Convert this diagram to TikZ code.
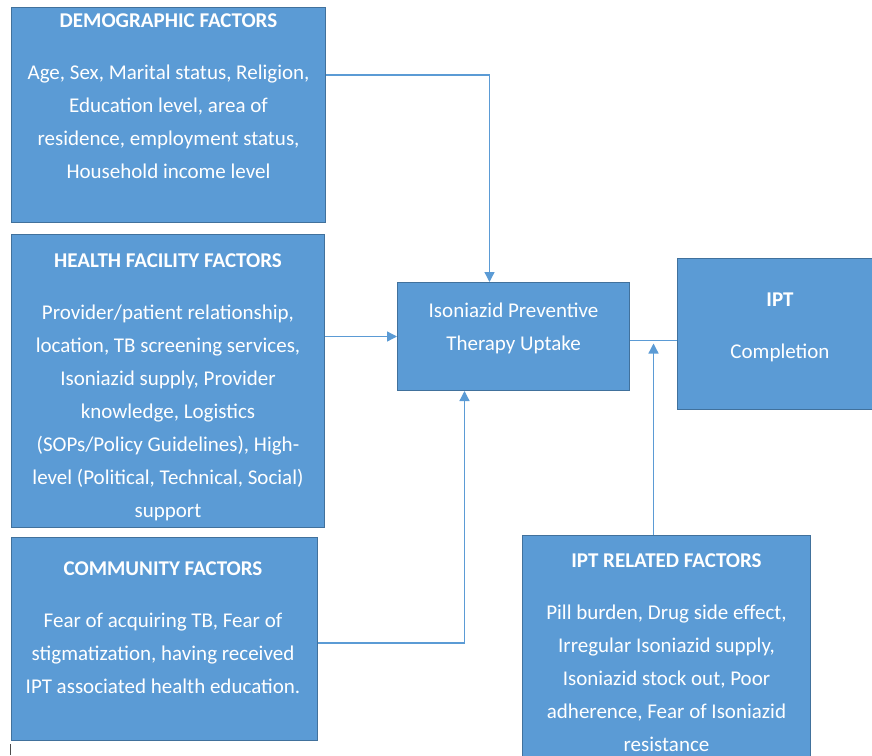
\documentclass[tikz,border=0pt]{standalone}
\usepackage{fontspec}
\setmainfont{Carlito}
\usetikzlibrary{arrows.meta}
\definecolor{boxblue}{HTML}{5B9BD5}
\definecolor{boxedge}{HTML}{41719C}
\definecolor{linkblue}{HTML}{5B9BD5}
\tikzstyle{factor} = [rectangle, draw=boxedge, fill=boxblue, line width=1pt, anchor=north west, inner sep=0pt]
\tikzstyle{boxtext} = [text=white, align=center, anchor=north, inner sep=0pt, font=\fontsize{21}{33}\selectfont]
\tikzstyle{link} = [draw=linkblue, line width=1.3pt]
\tikzstyle{arrow} = [link, -{Triangle[length=10pt,width=10pt]}]

\begin{document}
\begin{tikzpicture}[x=1pt, y=-1pt]
\clip (0,0) rectangle (872,755);
\node (demo) [factor, minimum width=314pt, minimum height=215pt] at (11,7) {};
\node (health) [factor, minimum width=313pt, minimum height=293pt] at (11,234) {};
\node (comm) [factor, minimum width=306pt, minimum height=203pt] at (11,537) {};
\node (uptake) [factor, minimum width=232pt, minimum height=108pt] at (397,282) {};
\node (done) [factor, minimum width=205pt, minimum height=151pt] at (677,258) {};
\node (related) [factor, minimum width=288pt, minimum height=240pt] at (522,535) {};

\node (demotext) [boxtext] at ([yshift=-6.5pt]demo.north) {\textbf{DEMOGRAPHIC FACTORS}\\[19pt]
 Age, Sex, Marital status, Religion,\\ Education level, area of\\ residence, employment status,\\ Household income level};
\node (healthtext) [boxtext] at ([yshift=-19.5pt]health.north) {\textbf{HEALTH FACILITY FACTORS}\\[19pt]
 Provider/patient relationship,\\ location, TB screening services,\\ Isoniazid supply, Provider\\ knowledge, Logistics\\
 (SOPs/Policy Guidelines), High-\\ level (Political, Technical, Social)\\ support};
\node (commtext) [boxtext] at ([xshift=-1.5pt,yshift=-25pt]comm.north) {\textbf{COMMUNITY FACTORS}\\[19pt]
 Fear of acquiring TB, Fear of\\ stigmatization, having received\\ IPT associated health education.};
\node (uptaketext) [boxtext] at ([yshift=-21pt]uptake.north) {Isoniazid Preventive\\ Therapy Uptake};
\node (donetext) [boxtext] at ([yshift=-35pt]done.north) {\textbf{IPT}\\[19pt] Completion};
\node (relatedtext) [boxtext] at ([yshift=-19pt]related.north) {\textbf{IPT RELATED FACTORS}\\[19pt]
 Pill burden, Drug side effect,\\ Irregular Isoniazid supply,\\ Isoniazid stock out, Poor\\ adherence, Fear of Isoniazid\\ resistance};

% links into the uptake box
\draw [arrow] ([yshift=40pt]demo.east) -| ([xshift=-24pt]uptake.north);
\draw [arrow] (uptake.west -| health.east) -- (uptake.west);
\draw [arrow] ([yshift=-4pt]comm.east) -| ([xshift=-49pt]uptake.south);
\coordinate (join) at ([yshift=-4pt]uptake.east);
\draw [link] (join) -- (join -| done.west);
\draw [arrow, shorten >=3pt] ([xshift=-13pt]related.north) -- ([xshift=-13pt]related.north |- join);
\draw [gray!60!black, line width=1pt] (10,744) -- (10,755);
\end{tikzpicture}
\end{document}
